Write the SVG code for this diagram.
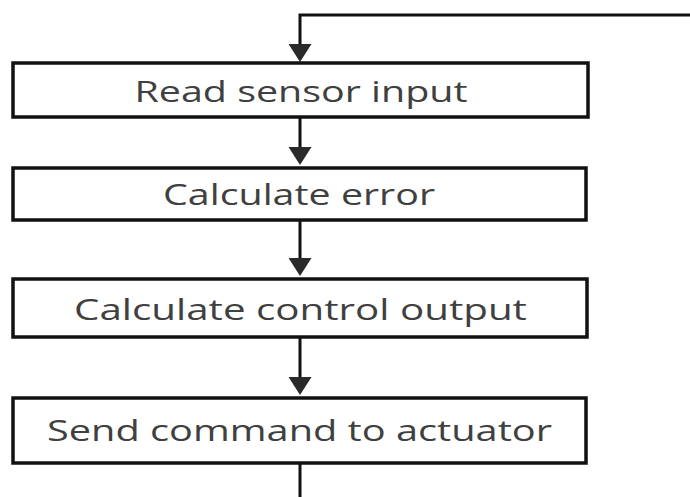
<svg xmlns="http://www.w3.org/2000/svg" width="690" height="497" viewBox="0 0 690 497">
  <style>
    .box { fill: #ffffff; stroke: #111111; stroke-width: 3.5; }
    .lbl { font-family: "Open Sans", "DejaVu Sans", sans-serif; font-size: 29.5px; fill: #404040; text-anchor: middle; }
    .conn { fill: none; stroke: #111111; stroke-width: 3; }
  </style>
  <defs>
    <marker id="arrow" viewBox="0 0 18 23" refX="7" refY="11.5" markerWidth="18" markerHeight="23" markerUnits="userSpaceOnUse" orient="auto">
      <path d="M0,0 L18,11.5 L0,23 z" fill="#2a2a2a"/>
    </marker>
  </defs>
  <rect width="690" height="497" fill="#ffffff"/>
  <g id="connectors">
    <path class="conn" d="M690,15 H300 V51" marker-end="url(#arrow)"/>
    <path class="conn" d="M300,117 V154" marker-end="url(#arrow)"/>
    <path class="conn" d="M300,220 V265" marker-end="url(#arrow)"/>
    <path class="conn" d="M300,337 V384" marker-end="url(#arrow)"/>
    <path class="conn" d="M300,463 V497"/>
  </g>
  <g id="node-read">
    <rect class="box" x="13" y="63" width="575" height="54"/>
    <text class="lbl" x="301" y="102" textLength="333" lengthAdjust="spacingAndGlyphs">Read sensor input</text>
  </g>
  <g id="node-error">
    <rect class="box" x="13" y="168" width="573" height="52"/>
    <text class="lbl" x="299" y="205" textLength="272" lengthAdjust="spacingAndGlyphs">Calculate error</text>
  </g>
  <g id="node-control">
    <rect class="box" x="13" y="279" width="574" height="58"/>
    <text class="lbl" x="300.5" y="320" textLength="453" lengthAdjust="spacingAndGlyphs">Calculate control output</text>
  </g>
  <g id="node-send">
    <rect class="box" x="13" y="398" width="573" height="65"/>
    <text class="lbl" x="299.5" y="441" textLength="505" lengthAdjust="spacingAndGlyphs">Send command to actuator</text>
  </g>
</svg>
